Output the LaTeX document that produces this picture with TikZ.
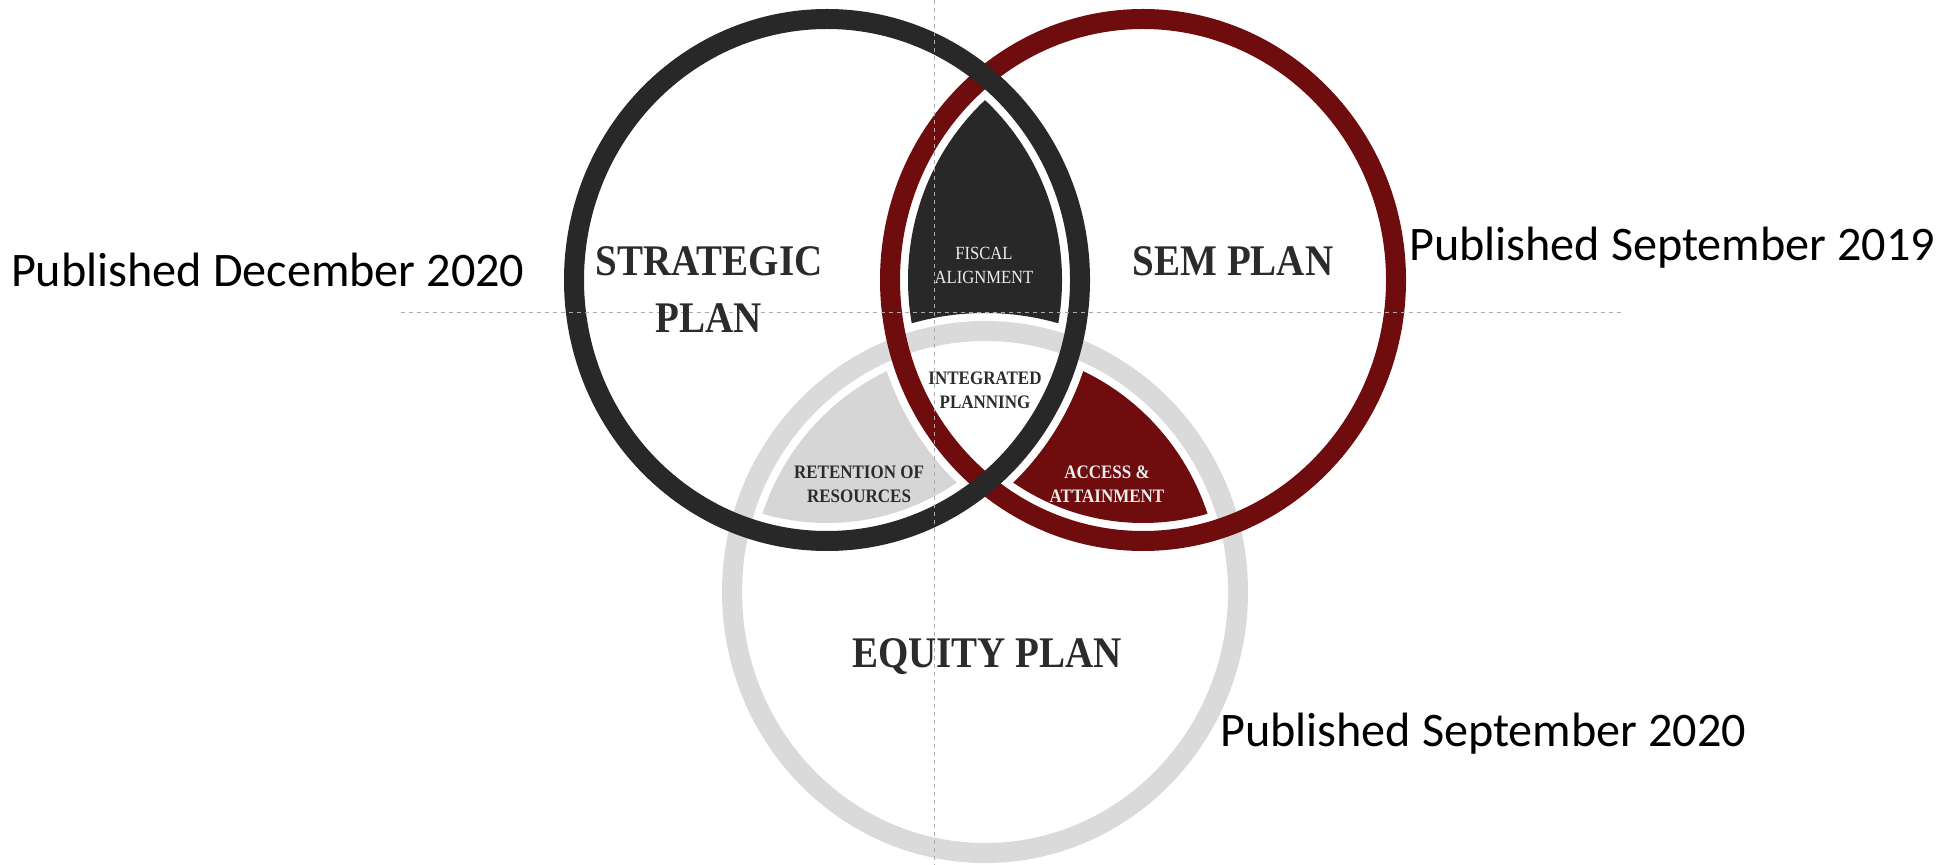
\documentclass[tikz,border=0pt]{standalone}
\usepackage{fontspec}
\usepackage{graphicx}
\setmainfont{Liberation Serif}
\newfontfamily\pubfont{Carlito}
\definecolor{ringdark}{RGB}{40,40,40}
\definecolor{ringred}{RGB}{110,12,14}
\definecolor{ringgrey}{RGB}{218,218,218}
\definecolor{fillgrey}{RGB}{214,214,214}
\definecolor{labelgrey}{RGB}{43,43,43}
\newcommand{\tall}[1]{\scalebox{1}[1.12]{#1}}
\begin{document}
\begin{tikzpicture}[x=0.5pt,y=-0.5pt,
  ring/.style={line width=10pt},
  inner/.style={x radius=117.5pt,y radius=121.5pt},
  outer/.style={x radius=135.5pt,y radius=139.5pt},
  middle/.style={x radius=126.5pt,y radius=130.5pt},
  dashline/.style={draw=black!33,line width=0.5pt,dash pattern=on 2.2pt off 1.8pt},
  plan/.style={font=\fontsize{19.5}{28.5}\selectfont\bfseries,text=labelgrey,align=center},
  part/.style={font=\fontsize{8.5}{12}\selectfont\bfseries,text=labelgrey,align=center},
  pub/.style={font=\pubfont\fontsize{24.1}{28}\selectfont,anchor=base west}]
\useasboundingbox (0,0) rectangle (1952,865);

\coordinate (strat) at (827,280);
\coordinate (sem) at (1143,280);
\coordinate (equity) at (985,592);

% fiscal alignment
\begin{scope}[even odd rule]
\clip (strat) ellipse [inner];
\clip (sem) ellipse [inner];
\clip (0,0) rectangle (1952,865) (equity) ellipse [outer];
\fill [ringdark] (0,0) rectangle (1952,865);
\end{scope}
% retention of resources
\begin{scope}[even odd rule]
\clip (strat) ellipse [inner];
\clip (equity) ellipse [inner];
\clip (0,0) rectangle (1952,865) (sem) ellipse [outer];
\fill [fillgrey] (0,0) rectangle (1952,865);
\end{scope}
% access & attainment
\begin{scope}[even odd rule]
\clip (sem) ellipse [inner];
\clip (equity) ellipse [inner];
\clip (0,0) rectangle (1952,865) (strat) ellipse [outer];
\fill [ringred] (0,0) rectangle (1952,865);
\end{scope}

\draw [ring,ringgrey] (equity) ellipse [middle];
\draw [ring,ringred] (sem) ellipse [middle];
\draw [ring,ringdark] (strat) ellipse [middle];

\coordinate (vtop) at (934,0);
\coordinate (vbot) at (934,865);
\coordinate (hleft) at (401,313);
\coordinate (hright) at (1621,313);
\draw [dashline] (vtop) -- (vbot);
\draw [dashline] (hleft) -- (hright);

\node [plan] (stratlabel) at (709,290) {\tall{STRATEGIC}\\\tall{PLAN}};
\node [plan] (semlabel) at (1233,261) {\tall{SEM PLAN}};
\node [plan] (equitylabel) at (987,657) {\tall{EQUITY PLAN}};
\node [part,font=\fontsize{8.3}{12}\selectfont,text=white!93!black] (fiscal) at (984,265) {\tall{FISCAL}\\\tall{ALIGNMENT}};
\node [part] (integrated) at (985,390) {\tall{INTEGRATED}\\\tall{PLANNING}};
\node [part] (retention) at (859,484) {\tall{RETENTION OF}\\\tall{RESOURCES}};
\node [part,text=white!93!black] (access) at (1107,484) {\tall{ACCESS \&}\\\tall{ATTAINMENT}};

\node [pub] (pubstrat) at (4,287) {Published December 2020};
\node [pub] (pubsem) at (1402,261) {Published September 2019};
\node [pub] (pubequity) at (1213,746) {Published September 2020};
\end{tikzpicture}
\end{document}
